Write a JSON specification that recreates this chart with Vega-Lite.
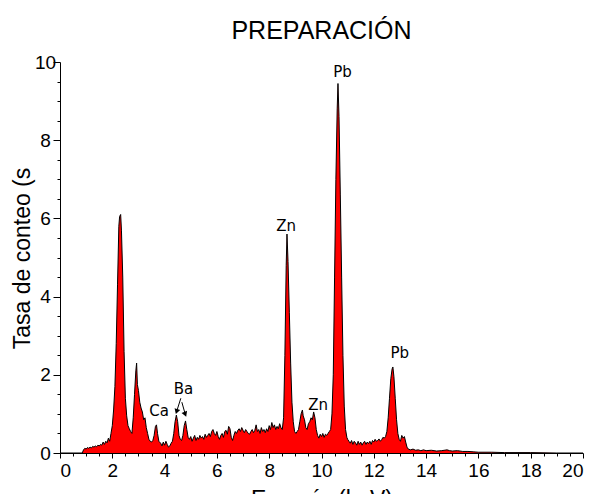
{
  "$schema": "https://vega.github.io/schema/vega-lite/v6.json",
  "autosize": "none",
  "width": 523,
  "height": 391,
  "padding": {"left": 60, "top": 62, "right": 16, "bottom": 41},
  "background": "white",
  "title": {"text": "PREPARACIÓN", "font": "Liberation Sans", "fontSize": 25, "fontWeight": "normal", "color": "black", "anchor": "middle", "offset": 9},
  "config": {
    "view": {"stroke": null},
    "axis": {"domainColor": "black", "tickColor": "black", "labelColor": "black", "titleColor": "black", "grid": false, "labelFont": "Liberation Sans", "labelFontSize": 19, "titleFont": "Liberation Sans", "titleFontSize": 23, "titleFontWeight": "normal"}
  },
  "datasets": {
    "spec": [
      {"e":0,"c":0},{"e":0.5,"c":0},{"e":0.85,"c":0},{"e":0.9,"c":0.08},{"e":0.95,"c":0.12},{"e":1.0,"c":0.1},{"e":1.05,"c":0.14},{"e":1.1,"c":0.12},{"e":1.15,"c":0.15},{"e":1.2,"c":0.13},{"e":1.25,"c":0.17},{"e":1.3,"c":0.15},{"e":1.35,"c":0.18},{"e":1.4,"c":0.16},{"e":1.45,"c":0.2},{"e":1.5,"c":0.18},{"e":1.55,"c":0.22},{"e":1.6,"c":0.2},{"e":1.65,"c":0.28},{"e":1.7,"c":0.22},{"e":1.75,"c":0.3},{"e":1.8,"c":0.26},{"e":1.85,"c":0.38},{"e":1.9,"c":0.3},{"e":1.95,"c":0.5},{"e":2.0,"c":0.7},{"e":2.05,"c":1.1},{"e":2.1,"c":1.7},{"e":2.15,"c":2.8},{"e":2.2,"c":4.3},{"e":2.25,"c":5.8},{"e":2.28,"c":6.05},{"e":2.32,"c":6.1},{"e":2.35,"c":5.7},{"e":2.4,"c":4.5},{"e":2.45,"c":2.6},{"e":2.5,"c":1.4},{"e":2.55,"c":0.95},{"e":2.6,"c":0.7},{"e":2.65,"c":0.62},{"e":2.7,"c":0.55},{"e":2.75,"c":0.5},{"e":2.8,"c":0.9},{"e":2.85,"c":1.5},{"e":2.9,"c":2.1},{"e":2.93,"c":2.3},{"e":2.96,"c":1.75},{"e":3.0,"c":1.6},{"e":3.05,"c":1.3},{"e":3.1,"c":1.15},{"e":3.15,"c":1.05},{"e":3.2,"c":0.85},{"e":3.25,"c":0.9},{"e":3.3,"c":0.65},{"e":3.35,"c":0.5},{"e":3.4,"c":0.35},{"e":3.45,"c":0.3},{"e":3.5,"c":0.28},{"e":3.55,"c":0.32},{"e":3.6,"c":0.45},{"e":3.65,"c":0.68},{"e":3.69,"c":0.72},{"e":3.73,"c":0.5},{"e":3.78,"c":0.3},{"e":3.85,"c":0.25},{"e":3.9,"c":0.18},{"e":3.95,"c":0.28},{"e":4.0,"c":0.2},{"e":4.05,"c":0.3},{"e":4.1,"c":0.22},{"e":4.15,"c":0.15},{"e":4.2,"c":0.18},{"e":4.25,"c":0.25},{"e":4.3,"c":0.3},{"e":4.35,"c":0.5},{"e":4.4,"c":0.8},{"e":4.45,"c":0.97},{"e":4.5,"c":0.8},{"e":4.55,"c":0.45},{"e":4.6,"c":0.35},{"e":4.65,"c":0.32},{"e":4.7,"c":0.45},{"e":4.75,"c":0.7},{"e":4.8,"c":0.82},{"e":4.85,"c":0.6},{"e":4.9,"c":0.4},{"e":4.95,"c":0.35},{"e":5.0,"c":0.42},{"e":5.05,"c":0.3},{"e":5.1,"c":0.38},{"e":5.15,"c":0.45},{"e":5.2,"c":0.32},{"e":5.25,"c":0.4},{"e":5.3,"c":0.35},{"e":5.35,"c":0.45},{"e":5.4,"c":0.38},{"e":5.45,"c":0.42},{"e":5.5,"c":0.35},{"e":5.55,"c":0.48},{"e":5.6,"c":0.4},{"e":5.65,"c":0.45},{"e":5.7,"c":0.5},{"e":5.75,"c":0.42},{"e":5.8,"c":0.55},{"e":5.85,"c":0.6},{"e":5.9,"c":0.5},{"e":5.95,"c":0.45},{"e":6.0,"c":0.55},{"e":6.05,"c":0.42},{"e":6.1,"c":0.35},{"e":6.15,"c":0.45},{"e":6.2,"c":0.5},{"e":6.25,"c":0.4},{"e":6.3,"c":0.55},{"e":6.35,"c":0.58},{"e":6.4,"c":0.48},{"e":6.45,"c":0.68},{"e":6.5,"c":0.62},{"e":6.55,"c":0.4},{"e":6.6,"c":0.32},{"e":6.65,"c":0.45},{"e":6.7,"c":0.55},{"e":6.75,"c":0.5},{"e":6.8,"c":0.58},{"e":6.85,"c":0.62},{"e":6.9,"c":0.55},{"e":6.95,"c":0.65},{"e":7.0,"c":0.58},{"e":7.05,"c":0.52},{"e":7.1,"c":0.6},{"e":7.15,"c":0.55},{"e":7.2,"c":0.5},{"e":7.25,"c":0.48},{"e":7.3,"c":0.55},{"e":7.35,"c":0.6},{"e":7.4,"c":0.52},{"e":7.45,"c":0.58},{"e":7.5,"c":0.72},{"e":7.55,"c":0.55},{"e":7.6,"c":0.6},{"e":7.65,"c":0.5},{"e":7.7,"c":0.65},{"e":7.75,"c":0.55},{"e":7.8,"c":0.6},{"e":7.85,"c":0.52},{"e":7.9,"c":0.62},{"e":7.95,"c":0.55},{"e":8.0,"c":0.7},{"e":8.05,"c":0.6},{"e":8.1,"c":0.78},{"e":8.15,"c":0.65},{"e":8.2,"c":0.72},{"e":8.25,"c":0.6},{"e":8.3,"c":0.68},{"e":8.35,"c":0.62},{"e":8.4,"c":0.75},{"e":8.45,"c":0.65},{"e":8.5,"c":0.6},{"e":8.55,"c":0.9},{"e":8.6,"c":2.5},{"e":8.65,"c":4.8},{"e":8.68,"c":5.6},{"e":8.72,"c":4.9},{"e":8.77,"c":3.6},{"e":8.82,"c":2.3},{"e":8.87,"c":1.3},{"e":8.92,"c":0.8},{"e":8.97,"c":0.55},{"e":9.02,"c":0.5},{"e":9.07,"c":0.55},{"e":9.12,"c":0.6},{"e":9.17,"c":0.8},{"e":9.22,"c":1.0},{"e":9.27,"c":1.1},{"e":9.3,"c":0.95},{"e":9.35,"c":0.85},{"e":9.4,"c":0.65},{"e":9.45,"c":0.6},{"e":9.5,"c":0.75},{"e":9.55,"c":0.8},{"e":9.6,"c":0.9},{"e":9.65,"c":0.85},{"e":9.7,"c":1.05},{"e":9.75,"c":0.9},{"e":9.8,"c":0.6},{"e":9.85,"c":0.45},{"e":9.9,"c":0.38},{"e":9.95,"c":0.48},{"e":10.0,"c":0.42},{"e":10.05,"c":0.5},{"e":10.1,"c":0.4},{"e":10.15,"c":0.48},{"e":10.2,"c":0.45},{"e":10.25,"c":0.5},{"e":10.3,"c":0.55},{"e":10.35,"c":0.6},{"e":10.4,"c":1.0},{"e":10.45,"c":2.0},{"e":10.5,"c":4.5},{"e":10.55,"c":7.0},{"e":10.6,"c":8.8},{"e":10.63,"c":9.45},{"e":10.67,"c":8.6},{"e":10.72,"c":6.6},{"e":10.77,"c":4.5},{"e":10.82,"c":2.5},{"e":10.87,"c":1.2},{"e":10.92,"c":0.6},{"e":10.97,"c":0.4},{"e":11.0,"c":0.35},{"e":11.05,"c":0.3},{"e":11.1,"c":0.25},{"e":11.15,"c":0.32},{"e":11.2,"c":0.22},{"e":11.25,"c":0.3},{"e":11.3,"c":0.26},{"e":11.35,"c":0.2},{"e":11.4,"c":0.3},{"e":11.45,"c":0.22},{"e":11.5,"c":0.28},{"e":11.55,"c":0.2},{"e":11.6,"c":0.26},{"e":11.65,"c":0.3},{"e":11.7,"c":0.22},{"e":11.75,"c":0.28},{"e":11.8,"c":0.24},{"e":11.85,"c":0.3},{"e":11.9,"c":0.22},{"e":11.95,"c":0.32},{"e":12.0,"c":0.28},{"e":12.05,"c":0.35},{"e":12.1,"c":0.3},{"e":12.15,"c":0.32},{"e":12.2,"c":0.36},{"e":12.25,"c":0.3},{"e":12.3,"c":0.34},{"e":12.35,"c":0.4},{"e":12.4,"c":0.38},{"e":12.45,"c":0.42},{"e":12.5,"c":0.55},{"e":12.55,"c":0.9},{"e":12.6,"c":1.4},{"e":12.65,"c":1.9},{"e":12.7,"c":2.15},{"e":12.73,"c":2.2},{"e":12.77,"c":1.95},{"e":12.82,"c":1.4},{"e":12.87,"c":0.85},{"e":12.92,"c":0.5},{"e":12.97,"c":0.35},{"e":13.02,"c":0.3},{"e":13.07,"c":0.45},{"e":13.12,"c":0.38},{"e":13.17,"c":0.42},{"e":13.22,"c":0.28},{"e":13.27,"c":0.15},{"e":13.32,"c":0.1},{"e":13.4,"c":0.08},{"e":13.5,"c":0.1},{"e":13.6,"c":0.07},{"e":13.7,"c":0.08},{"e":13.8,"c":0.06},{"e":13.9,"c":0.08},{"e":14.0,"c":0.06},{"e":14.2,"c":0.07},{"e":14.4,"c":0.05},{"e":14.6,"c":0.06},{"e":14.8,"c":0.08},{"e":14.9,"c":0.06},{"e":15.0,"c":0.05},{"e":15.2,"c":0.06},{"e":15.4,"c":0.04},{"e":15.6,"c":0.04},{"e":15.8,"c":0.03},{"e":16.0,"c":0.02},{"e":16.5,"c":0.02},{"e":17.0,"c":0.01},{"e":18.0,"c":0.01},{"e":19.0,"c":0},{"e":20.0,"c":0}
    ],
    "labels": [
      {"e": 3.79, "c": 1.07, "t": "Ca"},
      {"e": 4.72, "c": 1.64, "t": "Ba"},
      {"e": 8.65, "c": 5.8, "t": "Zn"},
      {"e": 9.87, "c": 1.23, "t": "Zn"},
      {"e": 10.8, "c": 9.74, "t": "Pb"},
      {"e": 12.99, "c": 2.56, "t": "Pb"}
    ],
    "arrows": [
      {"e": 4.62, "c": 1.40, "e2": 4.46, "c2": 1.06, "side": "L"},
      {"e": 4.66, "c": 1.30, "e2": 4.79, "c2": 0.99, "side": "R"}
    ]
  },
  "resolve": {"axis": {"x": "independent", "y": "independent"}},
  "layer": [
    {
      "data": {"name": "spec"},
      "mark": {"type": "area", "color": "#ff0000", "opacity": 1},
      "encoding": {
        "x": {"field": "e", "type": "quantitative", "scale": {"domain": [0, 20], "nice": false, "zero": false},
              "axis": {"orient": "bottom", "values": [0,2,4,6,8,10,12,14,16,18,20], "tickSize": 5, "labelPadding": 3, "title": "Energía (keV)", "titleBaseline": "top", "titleY": 35, "domainWidth": 1}},
        "y": {"field": "c", "type": "quantitative", "scale": {"domain": [0, 10], "nice": false},
              "axis": {"orient": "left", "values": [0,2,4,6,8,10], "tickSize": 7, "labelPadding": 8, "labelAlign": "center", "title": "Tasa de conteo (s", "titleBaseline": "alphabetic", "titleX": -31, "titleY": 196, "domainWidth": 1}}
      }
    },
    {
      "data": {"name": "spec"},
      "mark": {"type": "line", "color": "black", "strokeWidth": 1},
      "encoding": {
        "x": {"field": "e", "type": "quantitative", "scale": {"domain": [0, 20], "nice": false, "zero": false},
              "axis": {"orient": "bottom", "values": [0.5,1,1.5,2.5,3,3.5,4.5,5,5.5,6.5,7,7.5,8.5,9,9.5,10.5,11,11.5,12.5,13,13.5,14.5,15,15.5,16.5,17,17.5,18.5,19,19.5], "tickSize": 3, "labels": false, "domain": false, "title": null}},
        "y": {"field": "c", "type": "quantitative", "scale": {"domain": [0, 10], "nice": false},
              "axis": {"orient": "left", "values": [0.5,1,1.5,2.5,3,3.5,4.5,5,5.5,6.5,7,7.5,8.5,9,9.5], "tickSize": 3, "labels": false, "domain": false, "title": null}}
      }
    },
    {
      "data": {"name": "labels"},
      "mark": {"type": "text", "font": "DejaVu Sans", "fontSize": 15, "color": "black", "baseline": "middle", "align": "center"},
      "encoding": {
        "x": {"field": "e", "type": "quantitative", "axis": null},
        "y": {"field": "c", "type": "quantitative", "axis": null},
        "text": {"field": "t"}
      }
    },
    {
      "data": {"name": "arrows"},
      "mark": {"type": "rule", "color": "black", "strokeWidth": 1},
      "encoding": {
        "x": {"field": "e", "type": "quantitative", "axis": null},
        "y": {"field": "c", "type": "quantitative", "axis": null},
        "x2": {"field": "e2"},
        "y2": {"field": "c2"}
      }
    },
    {
      "data": {"name": "arrows"},
      "transform": [{"filter": "datum.side == 'L'"}],
      "mark": {"type": "point", "shape": "triangle-down", "filled": true, "color": "black", "size": 35, "angle": 18, "opacity": 1},
      "encoding": {
        "x": {"field": "e2", "type": "quantitative", "axis": null},
        "y": {"field": "c2", "type": "quantitative", "axis": null}
      }
    },
    {
      "data": {"name": "arrows"},
      "transform": [{"filter": "datum.side == 'R'"}],
      "mark": {"type": "point", "shape": "triangle-down", "filled": true, "color": "black", "size": 35, "angle": -22, "opacity": 1},
      "encoding": {
        "x": {"field": "e2", "type": "quantitative", "axis": null},
        "y": {"field": "c2", "type": "quantitative", "axis": null}
      }
    }
  ]
}
